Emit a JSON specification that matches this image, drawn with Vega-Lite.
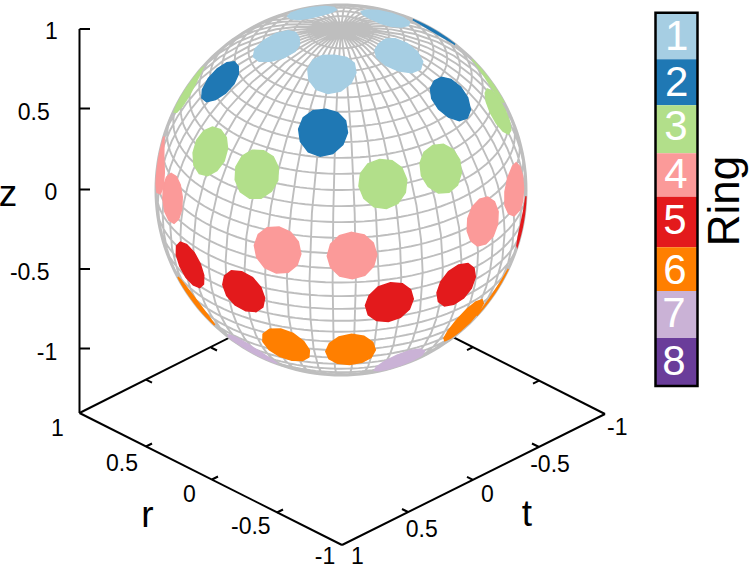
{"$schema":"https://vega.github.io/schema/vega-lite/v6.json","width":750,"height":569,"padding":0,"autosize":"none","background":"white","view":{"stroke":null},"config":{"text":{"font":"Liberation Sans"}},
"layer":[
{"data":{"values":[
{"id":"z axis","u":-1.4135,"v":-1.2054,"u2":-1.4135,"v2":0.8703},
{"id":"front left","u":-1.4135,"v":-1.2054,"u2":0.0054,"v2":-1.9189},
{"id":"front right","u":0.0054,"v":-1.9189,"u2":1.427,"v2":-1.2108},
{"id":"back left","u":-1.4135,"v":-1.2054,"u2":0.0054,"v2":-0.4919},
{"id":"back right","u":1.427,"v":-1.2108,"u2":0.0054,"v2":-0.4919},
{"id":"z tick 1","u":-1.4135,"v":0.8703,"u2":-1.3568,"v2":0.8703},
{"id":"z tick 0.5","u":-1.4135,"v":0.4405,"u2":-1.3568,"v2":0.4405},
{"id":"z tick 0","u":-1.4135,"v":0.0027,"u2":-1.3568,"v2":0.0027},
{"id":"z tick -0.5","u":-1.4135,"v":-0.427,"u2":-1.3568,"v2":-0.427},
{"id":"z tick -1","u":-1.4135,"v":-0.8568,"u2":-1.3568,"v2":-0.8568},
{"id":"r tick 0.5","u":-1.0541,"v":-1.3865,"u2":-1.0216,"v2":-1.3703},
{"id":"r tick 0","u":-0.6973,"v":-1.5649,"u2":-0.6649,"v2":-1.5486},
{"id":"r tick -0.5","u":-0.3459,"v":-1.7432,"u2":-0.3135,"v2":-1.727},
{"id":"t tick 0.5","u":0.3622,"v":-1.7405,"u2":0.3297,"v2":-1.7243},
{"id":"t tick 0","u":0.7135,"v":-1.5665,"u2":0.6811,"v2":-1.5503},
{"id":"t tick -0.5","u":1.0703,"v":-1.3892,"u2":1.0324,"v2":-1.3703},
{"id":"back r tick a","u":-1.0541,"v":-1.0249,"u2":-1.0216,"v2":-1.0411},
{"id":"back r tick b","u":-0.7027,"v":-0.8514,"u2":-0.6703,"v2":-0.8676},
{"id":"back t tick a","u":1.0703,"v":-1.0303,"u2":1.0378,"v2":-1.0465},
{"id":"back t tick b","u":0.7135,"v":-0.8497,"u2":0.6811,"v2":-0.8659}
]},"mark":{"type":"rule","color":"black","strokeWidth":2},"encoding":{
"x":{"field":"u","type":"quantitative","axis":null,"scale":{"domain":[-1.84324,2.21081],"nice":false,"zero":false}},
"y":{"field":"v","type":"quantitative","axis":null,"scale":{"domain":[-2.04865,1.02703],"nice":false,"zero":false}},
"x2":{"field":"u2"},"y2":{"field":"v2"}}},
{"data":{"sphere":true},"mark":{"type":"geoshape","fill":"white","stroke":"#bebebe","strokeWidth":3},"projection":{"type":"orthographic","rotate":[-9.8,-30,0],"scale":185,"translate":[341,190]}},
{"data":{"graticule":{"step":[7.2,5],"extent":[[-180,-90],[180,90]]}},"mark":{"type":"geoshape","fill":null,"filled":false,"stroke":"#bebebe","strokeWidth":1.9},"projection":{"type":"orthographic","rotate":[-9.8,-30,0],"scale":185,"translate":[341,190]}},
{"data":{"values":[
{"type":"Feature","properties":{"ring":1},"geometry":{"type":"Polygon","coordinates":[[[1.3,76.7],[16.9,75.7],[23.9,72.9],[22.8,69],[17.2,65.2],[9.6,62.3],[1.3,61.3],[-7,62.3],[-14.6,65.2],[-20.2,69],[-21.3,72.9],[-14.3,75.7],[1.3,76.7]]]}},
{"type":"Feature","properties":{"ring":1},"geometry":{"type":"Polygon","coordinates":[[[73.3,76.7],[88.9,75.7],[95.9,72.9],[94.8,69],[89.2,65.2],[81.6,62.3],[73.3,61.3],[65,62.3],[57.4,65.2],[51.8,69],[50.7,72.9],[57.7,75.7],[73.3,76.7]]]}},
{"type":"Feature","properties":{"ring":1},"geometry":{"type":"Polygon","coordinates":[[[145.3,76.7],[160.9,75.7],[167.9,72.9],[166.8,69],[161.2,65.2],[153.6,62.3],[145.3,61.3],[137,62.3],[129.4,65.2],[123.8,69],[122.7,72.9],[129.7,75.7],[145.3,76.7]]]}},
{"type":"Feature","properties":{"ring":1},"geometry":{"type":"Polygon","coordinates":[[[-142.7,76.7],[-127.1,75.7],[-120.1,72.9],[-121.2,69],[-126.8,65.2],[-134.4,62.3],[-142.7,61.3],[-151,62.3],[-158.6,65.2],[-164.2,69],[-165.3,72.9],[-158.3,75.7],[-142.7,76.7]]]}},
{"type":"Feature","properties":{"ring":1},"geometry":{"type":"Polygon","coordinates":[[[-70.7,76.7],[-55.1,75.7],[-48.1,72.9],[-49.2,69],[-54.8,65.2],[-62.4,62.3],[-70.7,61.3],[-79,62.3],[-86.6,65.2],[-92.2,69],[-93.3,72.9],[-86.3,75.7],[-70.7,76.7]]]}},
{"type":"Feature","properties":{"ring":2},"geometry":{"type":"Polygon","coordinates":[[[1.3,55.7],[8,54.7],[12.1,51.9],[12.8,48],[10.6,44.2],[6.4,41.3],[1.3,40.3],[-3.8,41.3],[-8,44.2],[-10.2,48],[-9.5,51.9],[-5.4,54.7],[1.3,55.7]]]}},
{"type":"Feature","properties":{"ring":2},"geometry":{"type":"Polygon","coordinates":[[[73.3,55.7],[80,54.7],[84.1,51.9],[84.8,48],[82.6,44.2],[78.4,41.3],[73.3,40.3],[68.2,41.3],[64,44.2],[61.8,48],[62.5,51.9],[66.6,54.7],[73.3,55.7]]]}},
{"type":"Feature","properties":{"ring":2},"geometry":{"type":"Polygon","coordinates":[[[-70.7,55.7],[-64,54.7],[-59.9,51.9],[-59.2,48],[-61.4,44.2],[-65.6,41.3],[-70.7,40.3],[-75.8,41.3],[-80,44.2],[-82.2,48],[-81.5,51.9],[-77.4,54.7],[-70.7,55.7]]]}},
{"type":"Feature","properties":{"ring":2},"geometry":{"type":"Polygon","coordinates":[[[140.3,55.7],[147,54.7],[151.1,51.9],[151.8,48],[149.6,44.2],[145.4,41.3],[140.3,40.3],[135.2,41.3],[131,44.2],[128.8,48],[129.5,51.9],[133.6,54.7],[140.3,55.7]]]}},
{"type":"Feature","properties":{"ring":3},"geometry":{"type":"Polygon","coordinates":[[[25.3,38.7],[30.2,37.7],[33.4,34.9],[34.3,31],[32.8,27.2],[29.5,24.3],[25.3,23.3],[21.1,24.3],[17.8,27.2],[16.3,31],[17.2,34.9],[20.4,37.7],[25.3,38.7]]]}},
{"type":"Feature","properties":{"ring":3},"geometry":{"type":"Polygon","coordinates":[[[49.3,38.7],[54.2,37.7],[57.4,34.9],[58.3,31],[56.8,27.2],[53.5,24.3],[49.3,23.3],[45.1,24.3],[41.8,27.2],[40.3,31],[41.2,34.9],[44.4,37.7],[49.3,38.7]]]}},
{"type":"Feature","properties":{"ring":3},"geometry":{"type":"Polygon","coordinates":[[[97.3,38.7],[102.2,37.7],[105.4,34.9],[106.3,31],[104.8,27.2],[101.5,24.3],[97.3,23.3],[93.1,24.3],[89.8,27.2],[88.3,31],[89.2,34.9],[92.4,37.7],[97.3,38.7]]]}},
{"type":"Feature","properties":{"ring":3},"geometry":{"type":"Polygon","coordinates":[[[121.3,38.7],[126.2,37.7],[129.4,34.9],[130.3,31],[128.8,27.2],[125.5,24.3],[121.3,23.3],[115,24.3],[110,27.2],[107.8,31],[109.1,34.9],[113.9,37.7],[121.3,38.7]]]}},
{"type":"Feature","properties":{"ring":3},"geometry":{"type":"Polygon","coordinates":[[[-22.7,38.7],[-17.8,37.7],[-14.6,34.9],[-13.7,31],[-15.2,27.2],[-18.5,24.3],[-22.7,23.3],[-26.9,24.3],[-30.2,27.2],[-31.7,31],[-30.8,34.9],[-27.6,37.7],[-22.7,38.7]]]}},
{"type":"Feature","properties":{"ring":3},"geometry":{"type":"Polygon","coordinates":[[[-46.7,38.7],[-41.8,37.7],[-38.6,34.9],[-37.7,31],[-39.2,27.2],[-42.5,24.3],[-46.7,23.3],[-50.9,24.3],[-54.2,27.2],[-55.7,31],[-54.8,34.9],[-51.6,37.7],[-46.7,38.7]]]}},
{"type":"Feature","properties":{"ring":3},"geometry":{"type":"Polygon","coordinates":[[[-94.7,38.7],[-87.3,37.7],[-82.5,34.9],[-81.2,31],[-83.4,27.2],[-88.4,24.3],[-94.7,23.3],[-98.9,24.3],[-102.2,27.2],[-103.7,31],[-102.8,34.9],[-99.6,37.7],[-94.7,38.7]]]}},
{"type":"Feature","properties":{"ring":4},"geometry":{"type":"Polygon","coordinates":[[[13.3,16.7],[17.3,15.7],[20.1,12.9],[21.1,9],[20,5.2],[17.2,2.3],[13.3,1.3],[9.4,2.3],[6.6,5.2],[5.5,9],[6.5,12.9],[9.3,15.7],[13.3,16.7]]]}},
{"type":"Feature","properties":{"ring":4},"geometry":{"type":"Polygon","coordinates":[[[-10.7,16.7],[-6.7,15.7],[-3.9,12.9],[-2.9,9],[-4,5.2],[-6.8,2.3],[-10.7,1.3],[-14.6,2.3],[-17.4,5.2],[-18.5,9],[-17.5,12.9],[-14.7,15.7],[-10.7,16.7]]]}},
{"type":"Feature","properties":{"ring":4},"geometry":{"type":"Polygon","coordinates":[[[61.3,16.7],[65.3,15.7],[68.1,12.9],[69.1,9],[68,5.2],[65.2,2.3],[61.3,1.3],[57.4,2.3],[54.6,5.2],[53.5,9],[54.5,12.9],[57.3,15.7],[61.3,16.7]]]}},
{"type":"Feature","properties":{"ring":4},"geometry":{"type":"Polygon","coordinates":[[[85.3,16.7],[89.3,15.7],[92.1,12.9],[93.1,9],[92,5.2],[89.2,2.3],[85.3,1.3],[79.3,2.3],[75.3,5.2],[73.6,9],[75.2,12.9],[79.3,15.7],[85.3,16.7]]]}},
{"type":"Feature","properties":{"ring":4},"geometry":{"type":"Polygon","coordinates":[[[-58.7,16.7],[-54.7,15.7],[-51.9,12.9],[-50.9,9],[-52,5.2],[-54.8,2.3],[-58.7,1.3],[-62.6,2.3],[-65.4,5.2],[-66.5,9],[-65.5,12.9],[-62.7,15.7],[-58.7,16.7]]]}},
{"type":"Feature","properties":{"ring":4},"geometry":{"type":"Polygon","coordinates":[[[-82.7,16.7],[-74.7,15.7],[-68.7,12.9],[-66.7,9],[-68.7,5.2],[-74.7,2.3],[-82.7,1.3],[-86.6,2.3],[-89.4,5.2],[-90.5,9],[-89.5,12.9],[-86.7,15.7],[-82.7,16.7]]]}},
{"type":"Feature","properties":{"ring":5},"geometry":{"type":"Polygon","coordinates":[[[25.3,-1.3],[29.2,-2.3],[32,-5.2],[33.1,-9],[32.1,-12.9],[29.3,-15.7],[25.3,-16.7],[21.3,-15.7],[18.5,-12.9],[17.5,-9],[18.6,-5.2],[21.4,-2.3],[25.3,-1.3]]]}},
{"type":"Feature","properties":{"ring":5},"geometry":{"type":"Polygon","coordinates":[[[49.3,-1.3],[53.2,-2.3],[56,-5.2],[57.1,-9],[56.1,-12.9],[53.3,-15.7],[49.3,-16.7],[45.3,-15.7],[42.5,-12.9],[41.5,-9],[42.6,-5.2],[45.4,-2.3],[49.3,-1.3]]]}},
{"type":"Feature","properties":{"ring":5},"geometry":{"type":"Polygon","coordinates":[[[97.3,-1.3],[101.2,-2.3],[104,-5.2],[105.1,-9],[104.1,-12.9],[101.3,-15.7],[97.3,-16.7],[91.3,-15.7],[87.1,-12.9],[85.6,-9],[87.3,-5.2],[91.4,-2.3],[97.3,-1.3]]]}},
{"type":"Feature","properties":{"ring":5},"geometry":{"type":"Polygon","coordinates":[[[-22.7,-1.3],[-18.8,-2.3],[-16,-5.2],[-14.9,-9],[-15.9,-12.9],[-18.7,-15.7],[-22.7,-16.7],[-26.7,-15.7],[-29.5,-12.9],[-30.5,-9],[-29.4,-5.2],[-26.6,-2.3],[-22.7,-1.3]]]}},
{"type":"Feature","properties":{"ring":5},"geometry":{"type":"Polygon","coordinates":[[[-46.7,-1.3],[-42.8,-2.3],[-40,-5.2],[-38.9,-9],[-39.9,-12.9],[-42.7,-15.7],[-46.7,-16.7],[-50.7,-15.7],[-53.5,-12.9],[-54.5,-9],[-53.4,-5.2],[-50.6,-2.3],[-46.7,-1.3]]]}},
{"type":"Feature","properties":{"ring":6},"geometry":{"type":"Polygon","coordinates":[[[13.3,-21.3],[17.5,-22.6],[20.8,-26.2],[22.3,-31],[21.4,-35.9],[18.2,-39.4],[13.3,-40.7],[8.4,-39.4],[5.2,-35.9],[4.3,-31],[5.8,-26.2],[9.1,-22.6],[13.3,-21.3]]]}},
{"type":"Feature","properties":{"ring":6},"geometry":{"type":"Polygon","coordinates":[[[-10.7,-21.3],[-6.5,-22.6],[-3.2,-26.2],[-1.7,-31],[-2.6,-35.9],[-5.8,-39.4],[-10.7,-40.7],[-15.6,-39.4],[-18.8,-35.9],[-19.7,-31],[-18.2,-26.2],[-14.9,-22.6],[-10.7,-21.3]]]}},
{"type":"Feature","properties":{"ring":6},"geometry":{"type":"Polygon","coordinates":[[[61.3,-21.3],[65.5,-22.6],[68.8,-26.2],[70.3,-31],[69.4,-35.9],[66.2,-39.4],[61.3,-40.7],[56.4,-39.4],[53.2,-35.9],[52.3,-31],[53.8,-26.2],[57.1,-22.6],[61.3,-21.3]]]}},
{"type":"Feature","properties":{"ring":6},"geometry":{"type":"Polygon","coordinates":[[[85.3,-21.3],[89.5,-22.6],[92.8,-26.2],[94.3,-31],[93.4,-35.9],[90.2,-39.4],[85.3,-40.7],[78.9,-39.4],[74.8,-35.9],[73.3,-31],[75.1,-26.2],[79.9,-22.6],[85.3,-21.3]]]}},
{"type":"Feature","properties":{"ring":6},"geometry":{"type":"Polygon","coordinates":[[[-58.7,-21.3],[-52.9,-22.6],[-48.8,-26.2],[-47,-31],[-48.2,-35.9],[-52.3,-39.4],[-58.7,-40.7],[-63.6,-39.4],[-66.8,-35.9],[-67.7,-31],[-66.2,-26.2],[-62.9,-22.6],[-58.7,-21.3]]]}},
{"type":"Feature","properties":{"ring":7},"geometry":{"type":"Polygon","coordinates":[[[37.3,-36],[42.4,-37.3],[46.6,-41],[48.8,-46],[48.1,-51],[44,-54.7],[37.3,-56],[30.6,-54.7],[26.5,-51],[25.8,-46],[28,-41],[32.2,-37.3],[37.3,-36]]]}},
{"type":"Feature","properties":{"ring":7},"geometry":{"type":"Polygon","coordinates":[[[-34.7,-36],[-29.6,-37.3],[-25.4,-41],[-23.2,-46],[-23.9,-51],[-28,-54.7],[-34.7,-56],[-41.4,-54.7],[-45.5,-51],[-46.2,-46],[-44,-41],[-39.8,-37.3],[-34.7,-36]]]}}
]},"mark":{"type":"geoshape","strokeWidth":1.5},"projection":{"type":"orthographic","rotate":[-9.8,-30,0],"scale":187,"translate":[341,190]},"encoding":{
"color":{"field":"properties.ring","type":"ordinal","legend":null,"scale":{"domain":[1,2,3,4,5,6,7,8],"range":["#a6cee3","#1f78b4","#b2df8a","#fb9a99","#e31a1c","#ff7f00","#cab2d6","#6a3d9a"]}},
"stroke":{"field":"properties.ring","type":"ordinal","legend":null,"scale":{"domain":[1,2,3,4,5,6,7,8],"range":["#a6cee3","#1f78b4","#b2df8a","#fb9a99","#e31a1c","#ff7f00","#cab2d6","#6a3d9a"]}}}},
{"data":{"values":[
{"ring":1,"u":1.7,"u2":1.927,"v":0.9584,"v2":0.7065,"nu":1.8146,"nv":0.827},
{"ring":2,"u":1.7,"u2":1.927,"v":0.7065,"v2":0.4578,"nu":1.8146,"nv":0.5784},
{"ring":3,"u":1.7,"u2":1.927,"v":0.4578,"v2":0.1984,"nu":1.81,"nv":0.3405},
{"ring":4,"u":1.7,"u2":1.927,"v":0.1984,"v2":-0.0362,"nu":1.81,"nv":0.0811},
{"ring":5,"u":1.7,"u2":1.927,"v":-0.0362,"v2":-0.3097,"nu":1.805,"nv":-0.1676},
{"ring":6,"u":1.7,"u2":1.927,"v":-0.3097,"v2":-0.5459,"nu":1.805,"nv":-0.4405},
{"ring":7,"u":1.7,"u2":1.927,"v":-0.5459,"v2":-0.8,"nu":1.8,"nv":-0.6703},
{"ring":8,"u":1.7,"u2":1.927,"v":-0.8,"v2":-1.0595,"nu":1.8,"nv":-0.9297}
]},"layer":[
{"mark":{"type":"rect"},"encoding":{
"x":{"field":"u","type":"quantitative","axis":null,"scale":{"domain":[-1.84324,2.21081],"nice":false,"zero":false}},
"y":{"field":"v","type":"quantitative","axis":null,"scale":{"domain":[-2.04865,1.02703],"nice":false,"zero":false}},
"x2":{"field":"u2"},"y2":{"field":"v2"},
"color":{"field":"ring","type":"ordinal","legend":null,"scale":{"domain":[1,2,3,4,5,6,7,8],"range":["#a6cee3","#1f78b4","#b2df8a","#fb9a99","#e31a1c","#ff7f00","#cab2d6","#6a3d9a"]}}}},
{"mark":{"type":"text","fontSize":42,"color":"white","align":"center","baseline":"middle","font":"Liberation Sans"},"encoding":{
"x":{"field":"nu","type":"quantitative","axis":null,"scale":{"domain":[-1.84324,2.21081],"nice":false,"zero":false}},
"y":{"field":"nv","type":"quantitative","axis":null,"scale":{"domain":[-2.04865,1.02703],"nice":false,"zero":false}},
"text":{"field":"ring","type":"nominal"}}}
]},
{"data":{"values":[{"u":1.7,"u2":1.927,"v":0.9584,"v2":-1.0595}]},"mark":{"type":"rect","fill":null,"stroke":"black","strokeWidth":2.5},"encoding":{
"x":{"field":"u","type":"quantitative","axis":null,"scale":{"domain":[-1.84324,2.21081],"nice":false,"zero":false}},
"y":{"field":"v","type":"quantitative","axis":null,"scale":{"domain":[-2.04865,1.02703],"nice":false,"zero":false}},
"x2":{"field":"u2"},"y2":{"field":"v2"}}},
{"data":{"values":[
{"label":"1","u":-1.5649,"v":0.8541},{"label":"0.5","u":-1.6611,"v":0.4173},{"label":"0","u":-1.5676,"v":-0.0162},{"label":"-0.5","u":-1.6827,"v":-0.4476},{"label":"-1","u":-1.5892,"v":-0.8784},
{"label":"1","u":-1.5324,"v":-1.2919},{"label":"0.5","u":-1.1838,"v":-1.4827},{"label":"0","u":-0.82,"v":-1.647},{"label":"-0.5","u":-0.4876,"v":-1.8216},{"label":"-1","u":-0.0865,"v":-1.986},
{"label":"1","u":0.0892,"v":-1.986},{"label":"0.5","u":0.4362,"v":-1.8378},{"label":"0","u":0.7908,"v":-1.6486},{"label":"-0.5","u":1.1297,"v":-1.4849},{"label":"-1","u":1.4935,"v":-1.2881}
]},"mark":{"type":"text","fontSize":23,"color":"black","align":"center","baseline":"middle","font":"Liberation Sans"},"encoding":{
"x":{"field":"u","type":"quantitative","axis":null,"scale":{"domain":[-1.84324,2.21081],"nice":false,"zero":false}},
"y":{"field":"v","type":"quantitative","axis":null,"scale":{"domain":[-2.04865,1.02703],"nice":false,"zero":false}},
"text":{"field":"label","type":"nominal"}}},
{"data":{"values":[{"label":"z","u":-1.8,"v":-0.0259},{"label":"r","u":-1.0459,"v":-1.7611},{"label":"t","u":1.0054,"v":-1.7584}]},"mark":{"type":"text","fontSize":37,"color":"black","align":"center","baseline":"middle","font":"Liberation Sans"},"encoding":{
"x":{"field":"u","type":"quantitative","axis":null,"scale":{"domain":[-1.84324,2.21081],"nice":false,"zero":false}},
"y":{"field":"v","type":"quantitative","axis":null,"scale":{"domain":[-2.04865,1.02703],"nice":false,"zero":false}},
"text":{"field":"label","type":"nominal"}}},
{"data":{"values":[{"label":"Ring","u":2.1514,"v":-0.0595}]},"mark":{"type":"text","fontSize":44,"color":"black","align":"center","baseline":"alphabetic","angle":270,"font":"Liberation Sans"},"encoding":{
"x":{"field":"u","type":"quantitative","axis":null,"scale":{"domain":[-1.84324,2.21081],"nice":false,"zero":false}},
"y":{"field":"v","type":"quantitative","axis":null,"scale":{"domain":[-2.04865,1.02703],"nice":false,"zero":false}},
"text":{"field":"label","type":"nominal"}}}
]}
